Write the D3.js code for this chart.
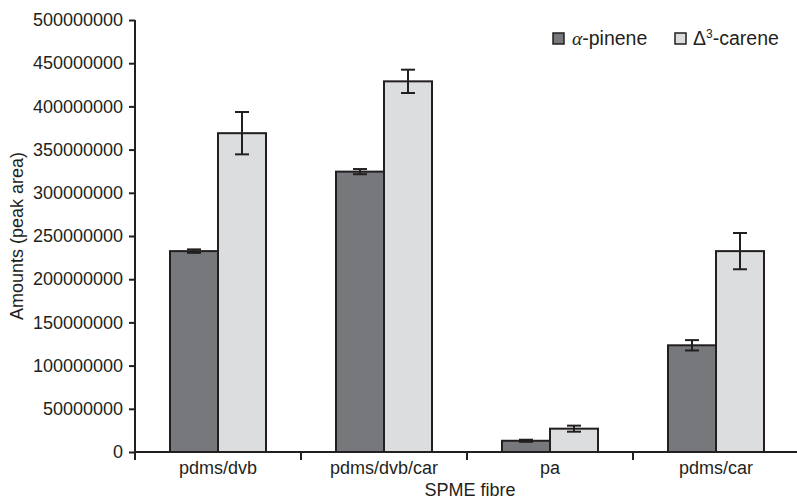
<!DOCTYPE html>
<html>
<head>
<meta charset="utf-8">
<script src="https://cdn.jsdelivr.net/npm/d3@7"></script>
<style>
  html, body { margin: 0; padding: 0; background: #fff; }
  svg { display: block; font-family: "Liberation Sans", Arial, sans-serif; }
</style>
</head>
<body>
<svg id="chart" width="797" height="499"></svg>
<script>
// Fibre types and peak-area means with standard deviations
const categories = ["pdms/dvb", "pdms/dvb/car", "pa", "pdms/car"];
const seriesNames = ["α-pinene", "Δ3-carene"];
const pineneValues = [232500000, 324500000, 13000000, 123500000];
const pineneErrors = [2000000, 3000000, 1200000, 6000000];
const careneValues = [369000000, 429000000, 27000000, 232500000];
const careneErrors = [24500000, 13500000, 3500000, 21000000];
const yTicks = [0, 50000000, 100000000, 150000000, 200000000, 250000000,
                300000000, 350000000, 400000000, 450000000, 500000000];

const seriesColors = ["#77787b", "#dcdddf"];
const ink = "#231f20";
const fontSize = 18;

const svg = d3.select("#chart");
const plotLeft = 135, plotRight = 799, plotTop = 20, plotBottom = 452;

const x = d3.scaleBand().domain(categories).range([plotLeft, plotRight]).padding(0);
const xInner = d3.scaleBand().domain([0, 1]).range([0, x.bandwidth()])
  .paddingInner(0).paddingOuter(0.729);
const y = d3.scaleLinear().domain([0, 500000000]).range([plotBottom, plotTop]);

const rows = categories.map((c, i) => ({
  cat: c,
  bars: [
    { s: 0, v: pineneValues[i], e: pineneErrors[i] },
    { s: 1, v: careneValues[i], e: careneErrors[i] }
  ]
}));

// Bars
const groups = svg.append("g").selectAll("g").data(rows).join("g")
  .attr("transform", d => `translate(${x(d.cat)},0)`);

groups.selectAll("rect").data(d => d.bars).join("rect")
  .attr("x", d => xInner(d.s))
  .attr("y", d => y(d.v))
  .attr("width", xInner.bandwidth())
  .attr("height", d => y(0) - y(d.v))
  .attr("fill", d => seriesColors[d.s])
  .attr("stroke", ink)
  .attr("stroke-width", 2);

// Error bars
const capHalf = 7;
const eb = groups.selectAll("g.err").data(d => d.bars).join("g").attr("class", "err")
  .attr("stroke", ink).attr("stroke-width", 2);
eb.append("line")
  .attr("x1", d => xInner(d.s) + xInner.bandwidth() / 2)
  .attr("x2", d => xInner(d.s) + xInner.bandwidth() / 2)
  .attr("y1", d => y(d.v + d.e)).attr("y2", d => y(d.v - d.e));
eb.append("line")
  .attr("x1", d => xInner(d.s) + xInner.bandwidth() / 2 - capHalf)
  .attr("x2", d => xInner(d.s) + xInner.bandwidth() / 2 + capHalf)
  .attr("y1", d => y(d.v + d.e)).attr("y2", d => y(d.v + d.e));
eb.append("line")
  .attr("x1", d => xInner(d.s) + xInner.bandwidth() / 2 - capHalf)
  .attr("x2", d => xInner(d.s) + xInner.bandwidth() / 2 + capHalf)
  .attr("y1", d => y(d.v - d.e)).attr("y2", d => y(d.v - d.e));

// Y axis
const yAxis = svg.append("g").attr("transform", `translate(${plotLeft},0)`)
  .call(d3.axisLeft(y).tickValues(yTicks).tickFormat(d3.format("d")).tickSize(6).tickPadding(6));
yAxis.select(".domain").attr("stroke", ink).attr("stroke-width", 2).attr("d", `M0,${plotTop}V${plotBottom}`);
yAxis.selectAll(".tick line").attr("stroke", ink).attr("stroke-width", 2);
yAxis.selectAll(".tick text").attr("fill", ink).attr("font-size", fontSize)
  .attr("font-family", "'Liberation Sans', Arial, sans-serif");

// X axis: ticks sit at the category boundaries
const xAxisG = svg.append("g").attr("transform", `translate(0,${plotBottom})`);
xAxisG.append("line").attr("x1", plotLeft - 1).attr("x2", plotRight)
  .attr("stroke", ink).attr("stroke-width", 2);
const boundaries = categories.map(c => x(c));
xAxisG.selectAll("line.tk").data(boundaries).join("line").attr("class", "tk")
  .attr("x1", d => d).attr("x2", d => d).attr("y1", 0).attr("y2", 8)
  .attr("stroke", ink).attr("stroke-width", 2);
xAxisG.selectAll("text").data(categories).join("text")
  .attr("x", d => x(d) + x.bandwidth() / 2)
  .attr("y", 22)
  .attr("text-anchor", "middle")
  .attr("fill", ink).attr("font-size", fontSize)
  .text(d => d);

// Axis titles
svg.append("text").attr("x", 470).attr("y", 496).attr("text-anchor", "middle")
  .attr("fill", ink).attr("font-size", fontSize).text("SPME fibre");
svg.append("text").attr("transform", `translate(23,${(plotTop + plotBottom) / 2}) rotate(-90)`)
  .attr("text-anchor", "middle").attr("fill", ink).attr("font-size", fontSize)
  .text("Amounts (peak area)");

// Legend
const legend = svg.append("g");
const legendX = [553, 675];
seriesNames.forEach((name, i) => {
  const g = legend.append("g").attr("transform", `translate(${legendX[i]},33)`);
  g.append("rect").attr("width", 11).attr("height", 11)
    .attr("fill", seriesColors[i]).attr("stroke", ink).attr("stroke-width", 1.5);
  const t = g.append("text").attr("x", i === 0 ? 19 : 18).attr("y", 12)
    .attr("fill", ink).attr("font-size", 19.5);
  if (i === 0) {
    t.append("tspan").attr("font-family", "'Liberation Serif', 'DejaVu Serif', serif")
      .attr("font-style", "italic").text("α");
    t.append("tspan").text("-pinene");
  } else {
    t.append("tspan").text("Δ");
    t.append("tspan").attr("font-size", 12).attr("dy", -7).text("3");
    t.append("tspan").attr("dy", 7).text("-carene");
  }
});
</script>
</body>
</html>
